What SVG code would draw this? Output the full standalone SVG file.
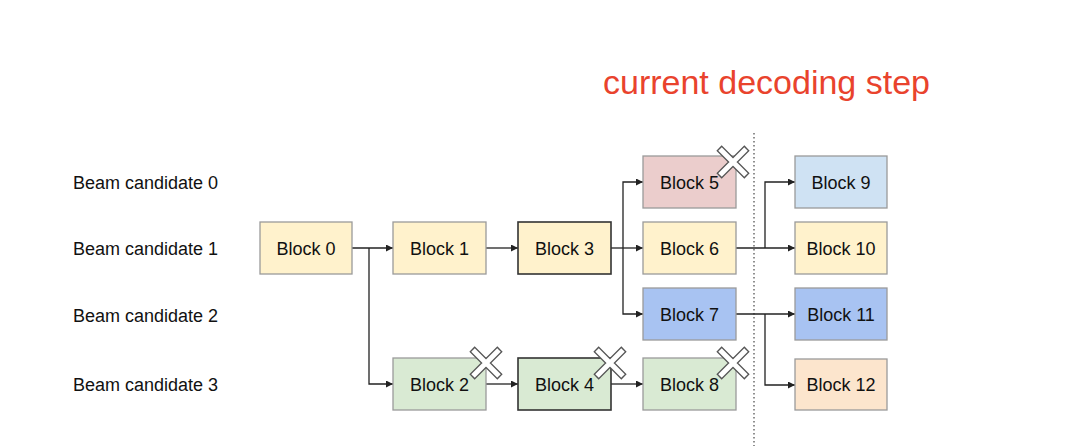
<svg xmlns="http://www.w3.org/2000/svg" width="1080" height="446" viewBox="0 0 1080 446">
<defs>
<style>
.lbl{font-family:"Liberation Sans",Arial,sans-serif;font-size:18px;fill:#111}
.bt{font-family:"Liberation Sans",Arial,sans-serif;font-size:18px;fill:#111;text-anchor:middle}
.box{stroke:#9a9a9a;stroke-width:1.3}
.dark{stroke:#333;stroke-width:1.6}
.yel{fill:#fff2cc}.red{fill:#ebcdcc}.lb{fill:#cfe2f3}.blue{fill:#a8c3f2}.grn{fill:#d9ead3}.org{fill:#fce5cd}
.ln{fill:none;stroke:#222;stroke-width:1.3}
.xo{stroke:#555;stroke-width:7.5;stroke-linecap:butt}
.xi{stroke:#fff;stroke-width:5;stroke-linecap:butt}
</style>
<marker id="ah" viewBox="0 0 10 10" refX="10" refY="5" markerWidth="7" markerHeight="7" markerUnits="userSpaceOnUse" orient="auto">
<path d="M0,0 L10,5 L0,10 z" fill="#222"/>
</marker>
<g id="xmark">
<path class="xo" d="M-14,-14 L14,14 M14,-14 L-14,14"/>
<path class="xi" d="M-13,-13 L13,13 M13,-13 L-13,13"/>
</g>
</defs>
<rect width="1080" height="446" fill="#fff"/>

<text x="603" y="94" style="font-family:'Liberation Sans',Arial,sans-serif;font-size:34px;fill:#e9432d">current decoding step</text>

<g id="labels">
<text class="lbl" x="73" y="188.5">Beam candidate 0</text>
<text class="lbl" x="73" y="254.5">Beam candidate 1</text>
<text class="lbl" x="73" y="322">Beam candidate 2</text>
<text class="lbl" x="73" y="390.5">Beam candidate 3</text>
</g>

<line x1="754" y1="133" x2="754" y2="446" stroke="#555" stroke-width="1.3" stroke-dasharray="1.5 2.5"/>

<g id="connectors">
<path class="ln" d="M352,248 H393" marker-end="url(#ah)"/>
<path class="ln" d="M369,248 V384 H393" marker-end="url(#ah)"/>
<path class="ln" d="M486,248 H518" marker-end="url(#ah)"/>
<path class="ln" d="M611,248 H643" marker-end="url(#ah)"/>
<path class="ln" d="M623,248 V182 H643" marker-end="url(#ah)"/>
<path class="ln" d="M623,248 V314 H643" marker-end="url(#ah)"/>
<path class="ln" d="M486,384 H518" marker-end="url(#ah)"/>
<path class="ln" d="M611,384 H643" marker-end="url(#ah)"/>
<path class="ln" d="M736,248 H795" marker-end="url(#ah)"/>
<path class="ln" d="M765,248 V182 H795" marker-end="url(#ah)"/>
<path class="ln" d="M736,314 H795" marker-end="url(#ah)"/>
<path class="ln" d="M765,314 V385 H795" marker-end="url(#ah)"/>
</g>

<g id="block0"><rect class="box yel" x="260" y="222" width="92" height="52"/><text class="bt" x="306" y="254.5">Block 0</text></g>
<g id="block1"><rect class="box yel" x="393" y="222" width="93" height="52"/><text class="bt" x="439.5" y="254.5">Block 1</text></g>
<g id="block3"><rect class="dark yel" x="518" y="222" width="93" height="52"/><text class="bt" x="564.5" y="254.5">Block 3</text></g>
<g id="block5"><rect class="box red" x="643" y="156" width="93" height="52"/><text class="bt" x="689.5" y="188.5">Block 5</text></g>
<g id="block6"><rect class="box yel" x="643" y="222" width="93" height="52"/><text class="bt" x="689.5" y="254.5">Block 6</text></g>
<g id="block7"><rect class="box blue" x="643" y="288" width="93" height="52"/><text class="bt" x="689.5" y="320.5">Block 7</text></g>
<g id="block2"><rect class="box grn" x="393" y="358" width="93" height="52"/><text class="bt" x="439.5" y="390.5">Block 2</text></g>
<g id="block4"><rect class="dark grn" x="518" y="358" width="93" height="52"/><text class="bt" x="564.5" y="390.5">Block 4</text></g>
<g id="block8"><rect class="box grn" x="643" y="358" width="93" height="52"/><text class="bt" x="689.5" y="390.5">Block 8</text></g>
<g id="block9"><rect class="box lb" x="795" y="156" width="92" height="52"/><text class="bt" x="841" y="188.5">Block 9</text></g>
<g id="block10"><rect class="box yel" x="795" y="222" width="92" height="52"/><text class="bt" x="841" y="254.5">Block 10</text></g>
<g id="block11"><rect class="box blue" x="795" y="288" width="92" height="52"/><text class="bt" x="841" y="320.5">Block 11</text></g>
<g id="block12"><rect class="box org" x="795" y="359" width="92" height="51"/><text class="bt" x="841" y="390.5">Block 12</text></g>

<g id="crosses">
<use href="#xmark" x="733" y="162"/>
<use href="#xmark" x="486" y="363"/>
<use href="#xmark" x="610" y="363"/>
<use href="#xmark" x="733" y="363"/>
</g>
</svg>
